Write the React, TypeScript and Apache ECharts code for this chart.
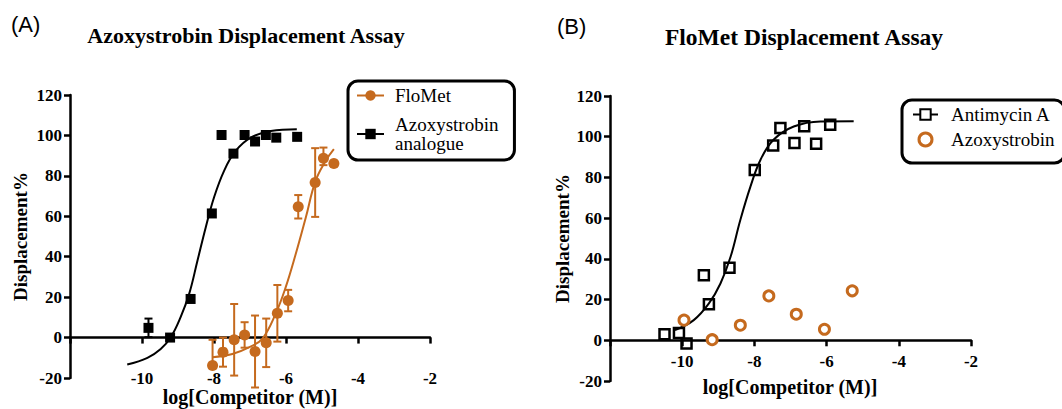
import React, { useEffect, useRef } from 'react';
import * as echarts from 'echarts';

const ORANGE = '#C56A1E';
const SERIF = "'Liberation Serif', 'Times New Roman', serif";
const SANS = "'Liberation Sans', Arial, sans-serif";

// ---------- Panel A ----------
// Azoxystrobin analogue (filled black squares)
const analogueX = [-9.82, -9.22, -8.65, -8.06, -7.79, -7.46, -7.15, -6.86, -6.56, -6.27, -5.69];
const analogueY = [4.8, 0, 19.1, 61.4, 100.2, 91, 100.2, 97, 100.2, 98.9, 99.3];
const analogueErrUp = [4.6, 0, 0, 0, 0, 0, 0, 0, 0, 0, 0];
const analogueErrDown = [4.6, 0, 0, 0, 0, 0, 0, 0, 0, 0, 0];
// fitted curve
const analogueFitX = [-10.41, -9.85, -9.48, -9.2, -8.93, -8.69, -8.46, -8.23, -8.0, -7.72, -7.4, -6.98, -6.42, -5.7];
const analogueFitY = [-13.3, -10, -5.6, 0.2, 10, 21.6, 38, 54.5, 69.3, 82.5, 92.3, 98.9, 102.2, 103];

// FloMet (filled orange circles)
const flometX = [-8.04, -7.75, -7.44, -7.15, -6.86, -6.55, -6.24, -5.94, -5.66, -5.19, -4.96, -4.67];
const flometY = [-13.8, -7.2, -1.1, 1.3, -6.9, -2.6, 12, 18.3, 64.7, 76.7, 88.7, 86.1];
const flometErrUp = [12.7, 7.2, 17.7, 6.3, 17.8, 12, 14, 5.3, 5.8, 17, 5.3, 0];
const flometErrDown = [0, 7.2, 17.7, 6.3, 17.8, 12, 14, 5.3, 5.8, 17, 3.4, 0];
const flometFitX = [-8.05, -7.49, -7.03, -6.66, -6.29, -6.01, -5.73, -5.45, -5.18, -4.9, -4.67];
const flometFitY = [-9.7, -8.1, -4.8, -0.6, 11.7, 24.8, 41.3, 59.4, 77.5, 87.4, 93.2];

// ---------- Panel B ----------
const antimycinX = [-10.49, -10.09, -9.88, -9.4, -9.26, -8.69, -7.99, -7.48, -7.28, -6.89, -6.62, -6.29, -5.9];
const antimycinY = [3, 3.6, -1.6, 32, 17.7, 35.6, 83.7, 95.7, 104.3, 96.9, 105.1, 96.6, 105.9];
const antimycinFitX = [-10.2, -9.68, -9.26, -8.94, -8.66, -8.39, -8.11, -7.83, -7.47, -6.91, -6.17, -5.25];
const antimycinFitY = [5.0, 9.9, 18.1, 27.9, 41, 59.1, 75.5, 88.7, 98.5, 105, 107.5, 107.6];

const azoxyX = [-9.95, -9.17, -8.39, -7.6, -6.84, -6.06, -5.29];
const azoxyY = [9.9, 0.3, 7.4, 21.8, 12.8, 5.4, 24.3];

// axis ticks
const xMin = -12, xMax = -2, xStep = 2;
const yMin = -20, yMax = 120, yStep = 20;

const zip = (xs: number[], ys: number[]) => xs.map((x, i) => [x, ys[i]]);

const errorRenderer = (color: string) => (params: any, api: any) => {
  const x = api.value(0);
  const y = api.value(1);
  const up = api.value(2);
  const dn = api.value(3);
  const top = api.coord([x, y + up]);
  const bot = api.coord([x, y - dn]);
  const w = 4;
  const st = { stroke: color, lineWidth: 2 };
  const children: any[] = [
    { type: 'line', shape: { x1: top[0], y1: top[1], x2: bot[0], y2: bot[1] }, style: st },
  ];
  if (up > 0) children.push({ type: 'line', shape: { x1: top[0] - w, y1: top[1], x2: top[0] + w, y2: top[1] }, style: st });
  if (dn > 0) children.push({ type: 'line', shape: { x1: bot[0] - w, y1: bot[1], x2: bot[0] + w, y2: bot[1] }, style: st });
  return { type: 'group', children };
};

const axisLabelStyle = { fontFamily: SERIF, fontWeight: 'bold' as const, fontSize: 17, color: '#000' };
const axisNameStyle = { fontFamily: SERIF, fontWeight: 'bold' as const, fontSize: 19, color: '#000' };
const lineSt = { color: '#000', width: 2.5 };

function makeXAxis(gridIndex: number, labelMargin: number) {
  return {
    type: 'value', gridIndex, min: xMin, max: xMax, interval: xStep,
    axisLine: { show: true, onZero: true, lineStyle: lineSt },
    axisTick: { show: true, length: 6, lineStyle: lineSt },
    axisLabel: { ...axisLabelStyle, margin: labelMargin, formatter: (v: number) => (v === xMin ? '' : String(v)) },
    splitLine: { show: false },
  };
}
function makeYAxis(gridIndex: number, nameGap: number) {
  return {
    type: 'value', gridIndex, min: yMin, max: yMax, interval: yStep,
    axisLine: { show: true, onZero: false, lineStyle: lineSt },
    axisTick: { show: true, length: 6, lineStyle: lineSt },
    axisLabel: { ...axisLabelStyle, margin: 8 },
    splitLine: { show: false },
    name: 'Displacement%', nameLocation: 'middle', nameRotate: 90, nameGap, nameTextStyle: axisNameStyle,
  };
}

const legendText = { fontFamily: SERIF, fontSize: 19, color: '#000', lineHeight: 19 };

export default function App() {
  const ref = useRef<HTMLDivElement>(null);
  useEffect(() => {
    if (!ref.current) return;
    const chart = echarts.init(ref.current, undefined, { renderer: 'svg' });
    const option: any = {
      animation: false,
      backgroundColor: '#fff',
      title: [
        { text: '(A)', left: 11, top: 13, padding: 0, textStyle: { fontFamily: SANS, fontWeight: 'normal', fontSize: 22, color: '#000' } },
        { text: 'Azoxystrobin Displacement Assay', left: 246, top: 24, padding: 0, textAlign: 'center', textStyle: { fontFamily: SERIF, fontWeight: 'bold', fontSize: 22, color: '#000' } },
        { text: '(B)', left: 557, top: 15, padding: 0, textStyle: { fontFamily: SANS, fontWeight: 'normal', fontSize: 22, color: '#000' } },
        { text: 'FloMet Displacement Assay', left: 804, top: 25, padding: 0, textAlign: 'center', textStyle: { fontFamily: SERIF, fontWeight: 'bold', fontSize: 23.5, color: '#000' } },
        { text: 'log[Competitor (M)]', left: 250, top: 387, padding: 0, textAlign: 'center', textStyle: { ...axisNameStyle, fontSize: 20 } },
        { text: 'log[Competitor (M)]', left: 790, top: 377, padding: 0, textAlign: 'center', textStyle: { ...axisNameStyle, fontSize: 20 } },
      ],
      legend: [
        {
          data: ['FloMet', 'Azoxystrobin analogue'],
          orient: 'vertical', left: 348, top: 81,
          padding: [5, 16, 7, 8], itemGap: 10, itemWidth: 27, itemHeight: 13,
          borderColor: '#000', borderWidth: 3, borderRadius: 10,
          formatter: (n: string) => (n === 'Azoxystrobin analogue' ? 'Azoxystrobin\nanalogue' : n),
          textStyle: { ...legendText, padding: [0, 0, 0, 6] },
          selectedMode: false,
        },
        {
          data: ['Antimycin A', { name: 'Azoxystrobin', itemStyle: { borderWidth: 3 } }],
          orient: 'vertical', left: 902, top: 100,
          padding: [5, 10, 14, 10], itemGap: 6, itemWidth: 25, itemHeight: 13,
          borderColor: '#000', borderWidth: 3, borderRadius: 10,
          textStyle: { ...legendText, padding: [0, 0, 0, 8] },
          selectedMode: false,
        },
      ],
      grid: [
        { left: 70, top: 95, width: 360, height: 283, outerBoundsMode: 'none', containLabel: false },
        { left: 610, top: 96, width: 361, height: 285, outerBoundsMode: 'none', containLabel: false },
      ],
      xAxis: [makeXAxis(0, -8), makeXAxis(1, -28)],
      yAxis: [makeYAxis(0, 40), makeYAxis(1, 38)],
      series: [
        // Panel A fits (named for the legend)
        {
          name: 'FloMet', type: 'line', xAxisIndex: 0, yAxisIndex: 0,
          data: zip(flometFitX, flometFitY), smooth: 0.4, symbol: 'circle', showSymbol: false,
          lineStyle: { color: ORANGE, width: 2 }, itemStyle: { color: ORANGE }, z: 3,
        },
        {
          name: 'Azoxystrobin analogue', type: 'line', xAxisIndex: 0, yAxisIndex: 0,
          data: zip(analogueFitX, analogueFitY), smooth: 0.4, symbol: 'rect', showSymbol: false,
          lineStyle: { color: '#000', width: 2 }, itemStyle: { color: '#000' }, z: 3,
        },
        // Panel A error bars
        {
          name: 'FloMet SEM', type: 'custom', xAxisIndex: 0, yAxisIndex: 0,
          renderItem: errorRenderer(ORANGE), encode: { x: 0, y: 1 },
          data: flometX.map((x, i) => [x, flometY[i], flometErrUp[i], flometErrDown[i]]).filter(d => d[2] + d[3] > 0),
          z: 4,
        },
        {
          name: 'Analogue SEM', type: 'custom', xAxisIndex: 0, yAxisIndex: 0,
          renderItem: errorRenderer('#000'), encode: { x: 0, y: 1 },
          data: analogueX.map((x, i) => [x, analogueY[i], analogueErrUp[i], analogueErrDown[i]]).filter(d => d[2] + d[3] > 0),
          z: 4,
        },
        // Panel A points
        {
          name: 'FloMet points', type: 'scatter', xAxisIndex: 0, yAxisIndex: 0,
          data: zip(flometX, flometY), symbol: 'circle', symbolSize: 11,
          itemStyle: { color: ORANGE, opacity: 1 }, z: 5,
        },
        {
          name: 'Analogue points', type: 'scatter', xAxisIndex: 0, yAxisIndex: 0,
          data: zip(analogueX, analogueY), symbol: 'rect', symbolSize: 10,
          itemStyle: { color: '#000', opacity: 1 }, z: 5,
        },
        // Panel B
        {
          name: 'Antimycin A', type: 'line', xAxisIndex: 1, yAxisIndex: 1,
          data: zip(antimycinFitX, antimycinFitY), smooth: 0.4, symbol: 'emptyRect', showSymbol: false,
          lineStyle: { color: '#000', width: 2 }, itemStyle: { color: '#000' }, z: 3,
        },
        {
          name: 'Antimycin points', type: 'scatter', xAxisIndex: 1, yAxisIndex: 1,
          data: zip(antimycinX, antimycinY), symbol: 'rect', symbolSize: 10,
          itemStyle: { color: 'rgba(255,255,255,0)', borderColor: '#000', borderWidth: 2.5, opacity: 1 }, z: 5,
        },
        {
          name: 'Azoxystrobin', type: 'scatter', xAxisIndex: 1, yAxisIndex: 1,
          data: zip(azoxyX, azoxyY), symbol: 'circle', symbolSize: 10,
          itemStyle: { color: '#fff', borderColor: ORANGE, borderWidth: 3, opacity: 1 }, z: 5,
        },
      ],
    };
    chart.setOption(option);
    return () => chart.dispose();
  }, []);
  return <div ref={ref} style={{ position: 'fixed', left: 0, top: 0, width: 1062, height: 409 }} />;
}
